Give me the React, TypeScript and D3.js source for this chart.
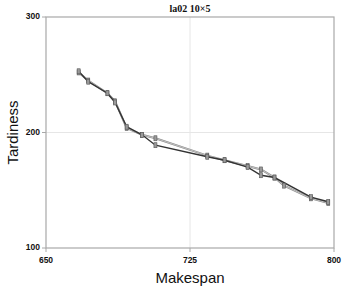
import { useEffect, useRef } from 'react';
import * as d3 from 'd3';

type Pt = { makespan: number; tardiness: number };

const darkSeries: Pt[] = [
  { makespan: 667, tardiness: 253 },
  { makespan: 672, tardiness: 244 },
  { makespan: 682, tardiness: 234 },
  { makespan: 686, tardiness: 226 },
  { makespan: 692, tardiness: 205 },
  { makespan: 700, tardiness: 198 },
  { makespan: 707, tardiness: 189 },
  { makespan: 734, tardiness: 179 },
  { makespan: 743, tardiness: 176 },
  { makespan: 755, tardiness: 170 },
  { makespan: 762, tardiness: 163 },
  { makespan: 769, tardiness: 161 },
  { makespan: 788, tardiness: 144 },
  { makespan: 797, tardiness: 140 },
];

const lightSeries: Pt[] = [
  { makespan: 667, tardiness: 252 },
  { makespan: 672, tardiness: 245 },
  { makespan: 682, tardiness: 234 },
  { makespan: 686, tardiness: 227 },
  { makespan: 692, tardiness: 204 },
  { makespan: 700, tardiness: 198 },
  { makespan: 707, tardiness: 195 },
  { makespan: 734, tardiness: 180 },
  { makespan: 743, tardiness: 176 },
  { makespan: 755, tardiness: 171 },
  { makespan: 762, tardiness: 168 },
  { makespan: 769, tardiness: 161 },
  { makespan: 774, tardiness: 154 },
  { makespan: 788, tardiness: 143 },
  { makespan: 797, tardiness: 139 },
];

const xTicks = [650, 725, 800];
const yTicks = [100, 200, 300];

export default function App() {
  const svgRef = useRef<SVGSVGElement>(null);

  useEffect(() => {
    if (!svgRef.current) return;
    const svg = d3.select(svgRef.current);
    svg.selectAll('*').remove();

    const width = 348;
    const height = 288;
    const margin = { top: 17, right: 14, bottom: 40, left: 46 };
    const innerWidth = width - margin.left - margin.right;
    const innerHeight = height - margin.top - margin.bottom;

    svg.attr('width', width).attr('height', height);

    const g = svg.append('g').attr('transform', `translate(${margin.left},${margin.top})`);

    const xScale = d3.scaleLinear().domain([650, 800]).range([0, innerWidth]);
    const yScale = d3.scaleLinear().domain([100, 300]).range([innerHeight, 0]);

    // Grid
    g.append('line')
      .attr('x1', xScale(725)).attr('x2', xScale(725))
      .attr('y1', 0).attr('y2', innerHeight)
      .attr('stroke', '#e6e6e6').attr('stroke-width', 1);
    g.append('line')
      .attr('x1', 0).attr('x2', innerWidth)
      .attr('y1', yScale(200)).attr('y2', yScale(200))
      .attr('stroke', '#e6e6e6').attr('stroke-width', 1);

    // Frame
    g.append('rect')
      .attr('x', 0).attr('y', 0)
      .attr('width', innerWidth).attr('height', innerHeight)
      .attr('fill', 'none')
      .attr('stroke', '#a8a8a8')
      .attr('stroke-width', 1.2);

    // Tick marks
    yTicks.forEach((t) => {
      g.append('line')
        .attr('x1', -4).attr('x2', 0)
        .attr('y1', yScale(t)).attr('y2', yScale(t))
        .attr('stroke', '#a8a8a8');
      g.append('text')
        .attr('x', -6)
        .attr('y', yScale(t))
        .attr('text-anchor', 'end')
        .attr('dominant-baseline', 'middle')
        .attr('font-family', 'Liberation Sans, Arial, sans-serif')
        .attr('font-weight', 'bold')
        .attr('font-size', '8.5px')
        .attr('fill', '#111')
        .text(t);
    });
    xTicks.forEach((t) => {
      g.append('line')
        .attr('x1', xScale(t)).attr('x2', xScale(t))
        .attr('y1', innerHeight).attr('y2', innerHeight + 4)
        .attr('stroke', '#a8a8a8');
      g.append('text')
        .attr('x', xScale(t))
        .attr('y', innerHeight + 15)
        .attr('text-anchor', 'middle')
        .attr('font-family', 'Liberation Sans, Arial, sans-serif')
        .attr('font-weight', 'bold')
        .attr('font-size', '8.5px')
        .attr('fill', '#111')
        .text(t);
    });

    const lineGen = d3
      .line<Pt>()
      .x((d) => xScale(d.makespan))
      .y((d) => yScale(d.tardiness));

    // Light series: outlined gray line
    g.append('path')
      .datum(lightSeries)
      .attr('d', lineGen)
      .attr('fill', 'none')
      .attr('stroke', '#8a8a8a')
      .attr('stroke-width', 2);
    g.append('path')
      .datum(lightSeries)
      .attr('d', lineGen)
      .attr('fill', 'none')
      .attr('stroke', '#e8e8e8')
      .attr('stroke-width', 0.6);

    // Dark series
    g.append('path')
      .datum(darkSeries)
      .attr('d', lineGen)
      .attr('fill', 'none')
      .attr('stroke', '#333')
      .attr('stroke-width', 1.4);

    // Markers
    [lightSeries, darkSeries].forEach((series) => {
      series.forEach((d) => {
        g.append('rect')
          .attr('x', xScale(d.makespan) - 1.5)
          .attr('y', yScale(d.tardiness) - 2.5)
          .attr('width', 3)
          .attr('height', 5)
          .attr('fill', '#9a9a9a')
          .attr('stroke', '#555')
          .attr('stroke-width', 0.6);
      });
    });

    // Title
    svg.append('text')
      .attr('x', margin.left + xScale(725))
      .attr('y', 12)
      .attr('text-anchor', 'middle')
      .attr('font-family', 'Liberation Serif, Times New Roman, serif')
      .attr('font-weight', 'bold')
      .attr('font-size', '10px')
      .attr('fill', '#111')
      .text('la02 10×5');

    // Axis titles
    svg.append('text')
      .attr('x', margin.left + xScale(725))
      .attr('y', 283)
      .attr('text-anchor', 'middle')
      .attr('font-family', 'Liberation Sans, Arial, sans-serif')
      .attr('font-size', '15px')
      .attr('fill', '#111')
      .text('Makespan');

    svg.append('text')
      .attr('transform', `translate(18,${margin.top + yScale(200)}) rotate(-90)`)
      .attr('text-anchor', 'middle')
      .attr('font-family', 'Liberation Sans, Arial, sans-serif')
      .attr('font-size', '15px')
      .attr('fill', '#111')
      .text('Tardiness');
  }, []);

  return (
    <div style={{ position: 'absolute', left: 0, top: 0 }}>
      <svg ref={svgRef} style={{ display: 'block' }} />
    </div>
  );
}
